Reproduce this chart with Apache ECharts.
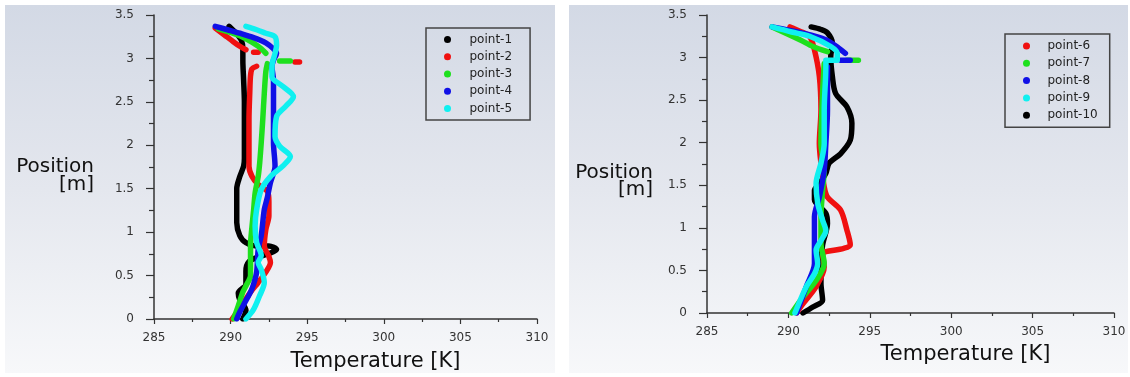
<!DOCTYPE html>
<html>
<head>
<meta charset="utf-8">
<title>Temperature profiles</title>
<script src="https://cdn.jsdelivr.net/npm/echarts@6/dist/echarts.min.js"></script>
<style>
  html, body { margin: 0; padding: 0; background: #ffffff; }
  #myChart { width: 1130px; height: 377px; }
</style>
</head>
<body>
<div id="myChart"></div>
<script>
// 刻度
var xTicks = [285, 290, 295, 300, 305, 310];
var yTicks = [0, 0.5, 1, 1.5, 2, 2.5, 3, 3.5];

var leftNames = ["point-1", "point-2", "point-3", "point-4", "point-5"];
var rightNames = ["point-6", "point-7", "point-8", "point-9", "point-10"];

// [Temperature K, Position m], '-' = gap between dot groups
var p1 = [[289.9,3.37],[290.3,3.30],[290.7,3.21],[290.8,3.10],[290.8,2.98],[290.85,2.75],[290.9,2.49],[290.9,2.20],[290.9,2.03],[290.9,1.85],[290.85,1.76],[290.6,1.64],[290.4,1.50],[290.4,1.30],[290.4,1.11],[290.6,0.96],[291.0,0.88],[291.8,0.84],[292.5,0.84],[293.0,0.80],[292.6,0.76],[291.9,0.72],[291.2,0.66],[291.0,0.55],[291.0,0.40],[290.5,0.30],[290.6,0.22],[291.0,0.10],[290.8,0.0]];
var p2 = [[289.0,3.35],[289.6,3.27],[290.2,3.19],[290.6,3.14],[291.0,3.10],["-","-"],[291.5,3.07],[291.8,3.07],["-","-"],[294.2,2.96],[294.5,2.96],["-","-"],[291.7,2.91],[291.4,2.88],[291.3,2.80],[291.25,2.60],[291.2,2.30],[291.2,2.03],[291.2,1.76],[291.4,1.64],[291.8,1.55],[292.4,1.47],[292.5,1.35],[292.5,1.19],[292.3,1.03],[292.2,0.84],[292.5,0.72],[292.6,0.65],[292.3,0.54],[291.8,0.42],[291.3,0.31],[290.7,0.15],[290.1,0.0]];
var p3 = [[289.2,3.34],[290.6,3.26],[291.8,3.14],[292.3,3.06],["-","-"],[293.2,2.97],[293.9,2.97],["-","-"],[292.4,2.94],[292.3,2.85],[292.2,2.60],[292.1,2.30],[292.0,2.03],[291.9,1.80],[291.8,1.64],[291.6,1.45],[291.5,1.25],[291.4,1.07],[291.3,0.85],[291.3,0.69],[291.3,0.50],[291.0,0.38],[290.8,0.31],[290.5,0.15],[290.2,0.0]];
var p4 = [[289.0,3.37],[289.8,3.33],[290.6,3.29],[291.5,3.24],[292.3,3.18],[292.8,3.11],[293.0,3.06],[292.8,2.98],[292.7,2.91],[292.8,2.75],[292.8,2.60],[292.8,2.30],[292.8,2.03],[292.9,1.76],[292.6,1.57],[292.4,1.40],[292.2,1.26],[292.0,0.96],[291.8,0.80],[291.7,0.54],[291.5,0.40],[291.3,0.31],[290.9,0.18],[290.6,0.08],[290.4,0.0]];
var p5 = [[291.0,3.37],[291.7,3.33],[292.3,3.29],[292.9,3.25],[293.0,3.15],[292.9,3.06],[292.7,2.91],[292.7,2.79],[293.4,2.68],[294.1,2.56],[293.6,2.45],[293.0,2.33],[292.9,2.10],[293.2,1.99],[293.9,1.87],[293.4,1.76],[292.6,1.64],[292.0,1.49],[291.7,1.26],[291.6,1.07],[291.7,0.88],[292.0,0.73],[291.8,0.65],[292.0,0.57],[292.2,0.42],[291.9,0.27],[291.5,0.11],[291.0,0.0]];

var p6 = [[290.1,3.36],[290.7,3.31],[291.3,3.25],[291.6,3.09],[291.9,2.78],[292.0,2.38],[291.9,1.99],[292.0,1.76],[292.2,1.48],[292.4,1.36],[293.2,1.21],[293.6,0.97],[293.8,0.80],[293.4,0.76],[292.3,0.72],[292.1,0.70],[292.2,0.54],[291.7,0.31],[290.9,0.11],[290.5,0.0]];
var p7 = [[289.0,3.36],[290.7,3.21],[291.5,3.13],[292.4,3.07],["-","-"],[293.6,2.97],[294.3,2.97],["-","-"],[292.2,2.93],[292.1,2.58],[292.0,1.99],[292.2,1.68],[292.1,1.44],[292.0,1.13],[292.0,0.82],[292.2,0.58],[291.7,0.38],[290.9,0.19],[290.2,0.0]];
var p8 = [[289.0,3.36],[290.8,3.29],[292.3,3.21],[293.1,3.11],[293.5,3.05],["-","-"],[293.2,2.97],[293.8,2.97],["-","-"],[292.4,2.89],[292.4,2.38],[292.3,1.99],[292.2,1.68],[291.9,1.36],[291.6,1.13],[291.6,0.82],[291.6,0.58],[291.1,0.31],[290.5,0.0]];
var p9 = [[289.0,3.36],[290.2,3.30],[291.3,3.25],[292.6,3.13],[293.0,3.05],[293.0,2.97],[292.3,2.97],[292.3,2.89],[292.2,2.38],[292.2,1.99],[292.0,1.76],[291.7,1.52],[291.8,1.29],[292.1,1.09],[292.3,0.97],[292.0,0.85],[291.7,0.74],[291.8,0.58],[291.6,0.46],[291.1,0.31],[290.4,0.0]];
var p10 = [[291.4,3.36],[292.0,3.33],[292.4,3.29],[292.7,3.17],[292.6,3.01],[292.7,2.78],[292.9,2.58],[293.6,2.42],[293.9,2.23],[293.8,2.03],[293.2,1.87],[292.5,1.76],[292.3,1.64],[291.9,1.52],[291.6,1.44],[291.6,1.33],[292.3,1.17],[292.4,1.05],[292.1,0.80],[292.0,0.55],[292.0,0.35],[292.1,0.15],[291.5,0.07],[290.9,0.0]];

var leftData = [p1, p2, p3, p4, p5];
var rightData = [p6, p7, p8, p9, p10];
var leftColors = ["#000000", "#f01010", "#1ee01e", "#1010e6", "#10f0f0"];
var rightColors = ["#f01010", "#1ee01e", "#1010e6", "#10f0f0", "#000000"];

var font = "DejaVu Sans";

function makeX(idx, gap, shift) {
  return {
    type: "value", gridIndex: idx,
    min: xTicks[0], max: xTicks[xTicks.length - 1], interval: 5,
    name: "Temperature [K]", nameLocation: "middle", nameGap: gap,
    nameTextStyle: { fontFamily: font, fontSize: 21, color: "#111", padding: [0, 0, 0, shift] },
    axisLine: { show: true, onZero: false, lineStyle: { color: "#333", width: 1.5 } },
    axisTick: { show: true, length: 5, lineStyle: { color: "#333", width: 1.2 } },
    minorTick: { show: true, splitNumber: 2, length: 3, lineStyle: { color: "#333", width: 1.2 } },
    splitLine: { show: false },
    axisLabel: { fontFamily: font, fontSize: 12, color: "#333", margin: 13 }
  };
}

// 空行用来把名字往下挪
function makeY(idx, gap, name, lh) {
  return {
    type: "value", gridIndex: idx,
    min: yTicks[0], max: yTicks[yTicks.length - 1], interval: 0.5,
    name: name, nameLocation: "middle", nameGap: gap, nameRotate: 0,
    nameTextStyle: { fontFamily: font, fontSize: 20, color: "#111", align: "right", lineHeight: lh },
    axisLine: { show: true, onZero: false, lineStyle: { color: "#333", width: 1.5 } },
    axisTick: { show: true, length: 8, lineStyle: { color: "#333", width: 1.2 } },
    minorTick: { show: true, splitNumber: 2, length: 5, lineStyle: { color: "#333", width: 1.2 } },
    splitLine: { show: false },
    axisLabel: { fontFamily: font, fontSize: 12, color: "#333", margin: 20 }
  };
}

function makeLegend(names, left, top, iw, pad) {
  return {
    data: names, orient: "vertical", left: left, top: top,
    icon: "circle", itemWidth: iw, itemHeight: 7, itemGap: 5.3,
    padding: pad, borderColor: "#444", borderWidth: 1.5,
    textStyle: { fontFamily: font, fontSize: 12, color: "#222", padding: [0, 0, 0, 2] }
  };
}

var series = [];
leftData.forEach(function (d, i) {
  series.push({
    name: leftNames[i], type: "line", xAxisIndex: 0, yAxisIndex: 0,
    data: d, showSymbol: false, smooth: 0.3, z: 2 + i,
    lineStyle: { width: 5.5, color: leftColors[i], cap: "round", join: "round" },
    itemStyle: { color: leftColors[i] }
  });
});
rightData.forEach(function (d, i) {
  series.push({
    name: rightNames[i], type: "line", xAxisIndex: 1, yAxisIndex: 1,
    data: d, showSymbol: false, smooth: 0.3, z: i == 4 ? 1 : 2 + i,
    lineStyle: { width: 5.5, color: rightColors[i], cap: "round", join: "round" },
    itemStyle: { color: rightColors[i] }
  });
});

var bg = {
  type: "linear", x: 0, y: 0, x2: 0, y2: 1,
  colorStops: [{ offset: 0, color: "#d3d9e5" }, { offset: 0.5, color: "#e4e7ee" }, { offset: 1, color: "#f7f8fa" }]
};

var chart = echarts.init(document.getElementById("myChart"));
chart.setOption({
  animation: false,
  backgroundColor: "#ffffff",
  graphic: [
    { type: "rect", z: -10, silent: true, shape: { x: 5, y: 5, width: 550, height: 368 }, style: { fill: bg } },
    { type: "rect", z: -10, silent: true, shape: { x: 569, y: 5, width: 559, height: 368 }, style: { fill: bg } }
  ],
  grid: [
    { left: 154, top: 15, width: 383, height: 305 },
    { left: 707, top: 15, width: 407, height: 298 }
  ],
  legend: [
    makeLegend(leftNames, 426, 28, 30, [5.4, 18, 5.4, 18]),
    makeLegend(rightNames, 1005, 34, 28, [6, 12, 6, 18])
  ],
  xAxis: [makeX(0, 32, 60), makeX(1, 31, 110)],
  yAxis: [makeY(0, 60, " \nPosition\n[m]", 18), makeY(1, 54, " \n \nPosition\n[m]", 17)],
  series: series
});
</script>
</body>
</html>
